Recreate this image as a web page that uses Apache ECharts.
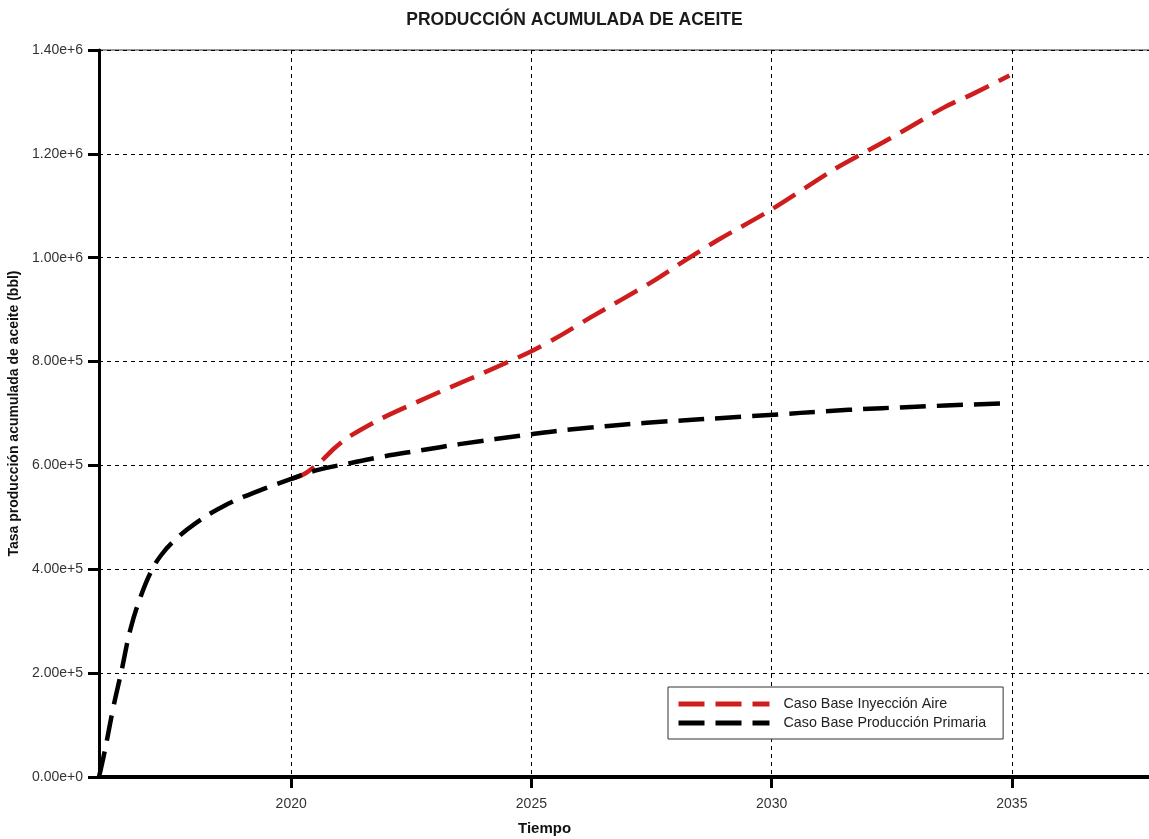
<!DOCTYPE html>
<html>
<head>
<meta charset="utf-8">
<title>Producción acumulada de aceite</title>
<script src="https://cdn.jsdelivr.net/npm/echarts@6/dist/echarts.min.js"></script>
<style>
  html, body { margin: 0; padding: 0; background: #fff; }
  #chart { width: 1149px; height: 839px; }
</style>
</head>
<body>
<div id="chart"></div>
<script>
// Cumulative oil production, [year, bbl]
const seriesNames = ['Caso Base Inyección Aire', 'Caso Base Producción Primaria'];

const inyeccionAire = [
  [2020.00, 574000], [2020.30, 585000], [2020.62, 608000], [2020.90, 633000],
  [2021.20, 655000], [2021.87, 690000], [2022.57, 720000], [2023.30, 750000],
  [2024.00, 778000], [2025.00, 820000], [2025.60, 850000], [2026.25, 886000],
  [2027.50, 953000], [2028.20, 995000], [2028.90, 1035000], [2030.00, 1093000],
  [2031.30, 1170000], [2032.00, 1206000], [2032.70, 1242000], [2033.60, 1290000],
  [2034.20, 1316000], [2034.95, 1351000]
];

const produccionPrimaria = [
  [2016.00, 0], [2016.12, 50000], [2016.30, 135000], [2016.47, 205000],
  [2016.65, 283000], [2016.85, 343000], [2017.08, 395000], [2017.30, 428000],
  [2017.60, 458000], [2018.00, 488000], [2018.60, 522000], [2019.35, 552000],
  [2020.00, 574000], [2020.50, 590000], [2021.20, 604000], [2021.90, 617000],
  [2022.70, 629000], [2023.50, 641000], [2025.00, 660000], [2025.80, 669000],
  [2027.40, 682000], [2029.60, 695000], [2031.60, 707000], [2033.00, 713000],
  [2034.90, 720000]
];

const yearTicks = [2020, 2025, 2030, 2035];

const FONT = '"Liberation Sans", Arial, sans-serif';
const chart = echarts.init(document.getElementById('chart'));

const dash = [26, 11];

chart.setOption({
  backgroundColor: '#fff',
  animation: false,
  title: {
    text: 'PRODUCCIÓN ACUMULADA DE ACEITE',
    left: 'center',
    top: 6,
    textStyle: { fontFamily: FONT, fontSize: 17.5, fontWeight: 'bold', color: '#1a1a1a' }
  },
  grid: {
    left: 99, top: 50, right: -7, bottom: 62,
    outerBoundsMode: 'none',
    containLabel: false,
    show: true, borderColor: '#333', borderWidth: 1, backgroundColor: 'transparent'
  },
  legend: {
    orient: 'vertical',
    left: 668, top: 687,
    itemWidth: 91, itemHeight: 14, itemGap: 5,
    padding: [10, 17, 9, 8],
    borderColor: '#333', borderWidth: 1,
    backgroundColor: '#fff',
    lineStyle: { width: 5 },
    itemStyle: { opacity: 0 },
    textStyle: { fontFamily: FONT, fontSize: 14.3, color: '#222', padding: [0, 0, 0, 9] },
    data: seriesNames
  },
  graphic: [{
    type: 'text',
    left: 548 - 30, top: 821,
    style: { text: 'Tiempo', font: 'bold 15px ' + FONT, fill: '#111' }
  }],
  xAxis: {
    type: 'value',
    min: 2016, max: 2038,
    axisLine: { show: true, onZero: false, lineStyle: { color: '#000', width: 4 } },
    axisTick: { show: true, length: 11, lineStyle: { color: '#000', width: 3 }, customValues: yearTicks },
    axisLabel: {
      customValues: yearTicks, margin: 20,
      fontFamily: FONT, fontSize: 14, color: '#333',
      formatter: v => String(v)
    },
    splitLine: { show: true, lineStyle: { color: '#000', width: 1, type: [4, 4] } }
  },
  yAxis: {
    type: 'value',
    min: 0, max: 1400000, interval: 200000,
    name: 'Tasa producción acumulada de aceite (bbl)',
    nameLocation: 'middle', nameRotate: 90, nameGap: 73,
    nameTextStyle: { fontFamily: FONT, fontSize: 14, fontWeight: 'bold', color: '#111' },
    axisLine: { show: true, lineStyle: { color: '#000', width: 3 } },
    axisTick: { show: true, length: 11, lineStyle: { color: '#000', width: 3 } },
    axisLabel: {
      margin: 16, fontFamily: FONT, fontSize: 14, color: '#333',
      formatter: v => Number(v).toExponential(2)
    },
    splitLine: { show: true, lineStyle: { color: '#000', width: 1, type: [4, 4] } }
  },
  series: [
    {
      name: seriesNames[0], type: 'line', data: inyeccionAire,
      symbol: 'none', smooth: 0.3,
      lineStyle: { color: '#cf1d1d', width: 4.5, type: dash },
      itemStyle: { color: '#cf1d1d' }
    },
    {
      name: seriesNames[1], type: 'line', data: produccionPrimaria,
      symbol: 'none', smooth: 0.4,
      lineStyle: { color: '#000', width: 4.5, type: dash },
      itemStyle: { color: '#000' }
    }
  ]
});
</script>
</body>
</html>
